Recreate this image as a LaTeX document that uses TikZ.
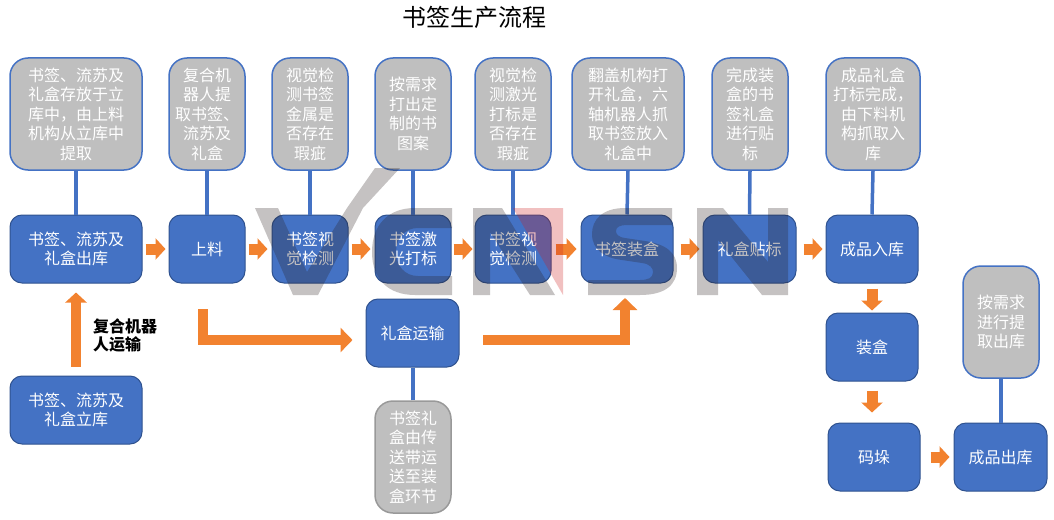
\documentclass[tikz,border=0pt]{standalone}
\usepackage{fontspec}
\setmainfont{Noto Sans CJK SC}
\usetikzlibrary{arrows.meta}
\definecolor{boxblue}{HTML}{4472C4}
\definecolor{boxedge}{HTML}{2F528F}
\definecolor{notegray}{HTML}{BFBFBF}
\definecolor{flow}{HTML}{F2822F}
\definecolor{wmgray}{RGB}{40,30,30}
\definecolor{wmred}{RGB}{205,30,30}
\tikzset{
  bluebox/.style={draw=boxedge,fill=boxblue,line width=1pt,rounded corners=12pt,text=white,
    minimum height=68pt,inner sep=0pt,align=center,font=\fontsize{16}{19.5}\selectfont},
  notebox/.style={draw=boxblue,fill=notegray,line width=1.5pt,rounded corners=18pt,text=white,
    minimum height=112pt,inner sep=0pt,align=center,font=\fontsize{16}{19.5}\selectfont},
  link/.style={draw=boxblue,line width=3.5pt},
  flowarrow/.style={draw=flow,line width=11pt,-{Triangle[length=10pt,width=21pt]}},
  flowlong/.style={draw=flow,line width=10pt,-{Triangle[length=12pt,width=24pt]}},
  wm/.style={fill=wmgray,fill opacity=.27,draw=none},
  wmr/.style={fill=wmred,fill opacity=.28,draw=none}
}
\begin{document}
\begin{tikzpicture}[x=1pt,y=-1pt]
\useasboundingbox (0,0) rectangle (1054,519);
\node[font=\fontsize{24}{28}\selectfont] (title) at (474,17) {书签生产流程};
% notes
\node[notebox,minimum width=132pt] (n1) at (76,114) {书签、流苏及\\礼盒存放于立\\库中，由上料\\机构从立库中\\提取};
\node[notebox,minimum width=76pt] (n2) at (207,114) {复合机\\器人提\\取书签、\\流苏及\\礼盒};
\node[notebox,minimum width=76pt] (n3) at (310,114) {视觉检\\测书签\\金属是\\否存在\\瑕疵};
\node[notebox,minimum width=76pt] (n4) at (413,114) {按需求\\打出定\\制的书\\图案};
\node[notebox,minimum width=76pt] (n5) at (513,114) {视觉检\\测激光\\打标是\\否存在\\瑕疵};
\node[notebox,minimum width=112pt] (n6) at (628,114) {翻盖机构打\\开礼盒，六\\轴机器人抓\\取书签放入\\礼盒中};
\node[notebox,minimum width=76pt] (n7) at (750,114) {完成装\\盒的书\\签礼盒\\进行贴\\标};
\node[notebox,minimum width=94pt] (n8) at (873,114) {成品礼盒\\打标完成，\\由下料机\\构抓取入\\库};
\node[notebox,minimum width=76pt] (n9) at (1001,322) {按需求\\进行提\\取出库};
\node[notebox,minimum width=76pt,draw=notegray!80!black] (n10) at (413,457) {书签礼\\盒由传\\送带运\\送至装\\盒环节};
% boxes
\node[bluebox,minimum width=132pt] (b1) at (76,249) {书签、流苏及\\礼盒出库};
\node[bluebox,minimum width=76pt] (b2) at (207,249) {上料};
\node[bluebox,minimum width=76pt] (b3) at (310,249) {书签视\\觉检测};
\node[bluebox,minimum width=76pt] (b4) at (413,249) {书签激\\光打标};
\node[bluebox,minimum width=76pt] (b5) at (513,249) {书签视\\觉检测};
\node[bluebox,minimum width=92pt] (b6) at (627,249) {书签装盒};
\node[bluebox,minimum width=93pt] (b7) at (749.5,249) {礼盒贴标};
\node[bluebox,minimum width=92pt] (b8) at (872,249) {成品入库};
\node[bluebox,minimum width=93pt] (c1) at (412.5,333) {礼盒运输};
\node[bluebox,minimum width=132pt] (s1) at (76,410) {书签、流苏及\\礼盒立库};
\node[bluebox,minimum width=92pt] (d1) at (872,347) {装盒};
\node[bluebox,minimum width=92pt] (d2) at (874,457) {码垛};
\node[bluebox,minimum width=93pt] (d3) at (1000.5,457) {成品出库};
% links
\draw[link] (n1.south) -- (b1.north);
\draw[link] (n2.south) -- (b2.north);
\draw[link] (n3.south) -- (b3.north);
\draw[link] (n4.south) -- (b4.north);
\draw[link] (n5.south) -- (b5.north);
\draw[link] (n6.south) -- (b6.north);
\draw[link] (n7.south) -- (b7.north);
\draw[link] (n8.south) -- (b8.north);
\draw[link] (n9.south) -- (n9.south |- d3.north);
\draw[link] (n10.north) -- (n10.north |- c1.south);
% flow arrows
\foreach \a/\b/\s/\e in {b1/b2/3/3,b2/b3/3/4,b3/b4/3/4,b4/b5/2/2,b5/b6/4/4,b6/b7/7/3,b7/b8/7/3,d2/d3/10/4}
  \draw[flowarrow,shorten <=\s pt,shorten >=\e pt] (\a) -- (\b);
\draw[flowarrow,shorten <=5pt,shorten >=2pt] (b8) -- (d1);
\draw[flowarrow,shorten <=9pt,shorten >=10pt] (d1.south) -- (d1.south |- d2.north);
\draw[flowarrow,line width=10pt,shorten <=9pt,shorten >=9pt] (s1) -- (b1);
\coordinate (l1) at (203,309);
\coordinate (l2) at (483,340);
\draw[flowlong,shorten >=13pt] (l1) -- (203,340) -- (c1.west |- l2);
\draw[flowlong,shorten >=15pt] (l2) -- (625,340) -- (625,283);
\node[font=\fontsize{16}{18}\selectfont\bfseries,align=left,anchor=north west,inner sep=0pt] (lab) at (93,319) {复合机器\\人运输};
% watermark
\fill[wm] (255,208) -- (278,208) -- (307,272) -- (347,208) -- (375,168) -- (400,168) -- (363,208) -- (318,295) -- (293,295) -- cycle;
\fill[wm] (452,208) -- (415,208) .. controls (388,208) and (372,225) .. (372,252) .. controls (372,279) and (388,295) .. (415,295) -- (452,295) -- (452,276) -- (418,276) .. controls (405,276) and (396,266) .. (396,252) .. controls (396,238) and (405,228) .. (418,228) -- (452,228) -- cycle;
\fill[wm] (473,208) -- (502,208) -- (555,295) -- (530,295) -- (490,232) -- (490,295) -- (473,295) -- cycle;
\fill[wmr] (513,208) -- (563,208) -- (563,295) -- cycle;
\fill[wm] (672,208) -- (625,208) .. controls (602,208) and (592,220) .. (592,234) .. controls (592,250) and (605,258) .. (622,260) -- (642,263) .. controls (650,264) and (653,268) .. (653,272) .. controls (653,278) and (648,280) .. (640,280) -- (588,280) -- (588,295) -- (640,295) .. controls (665,295) and (677,285) .. (677,268) .. controls (677,252) and (665,244) .. (645,241) -- (625,238) .. controls (618,237) and (616,234) .. (616,231) .. controls (616,227) and (620,225) .. (627,225) -- (672,225) -- cycle;
\fill[wm] (697,208) -- (723,208) -- (768,262) -- (768,208) -- (788,208) -- (788,295) -- (762,295) -- (718,240) -- (718,295) -- (697,295) -- cycle;
\end{tikzpicture}
\end{document}
